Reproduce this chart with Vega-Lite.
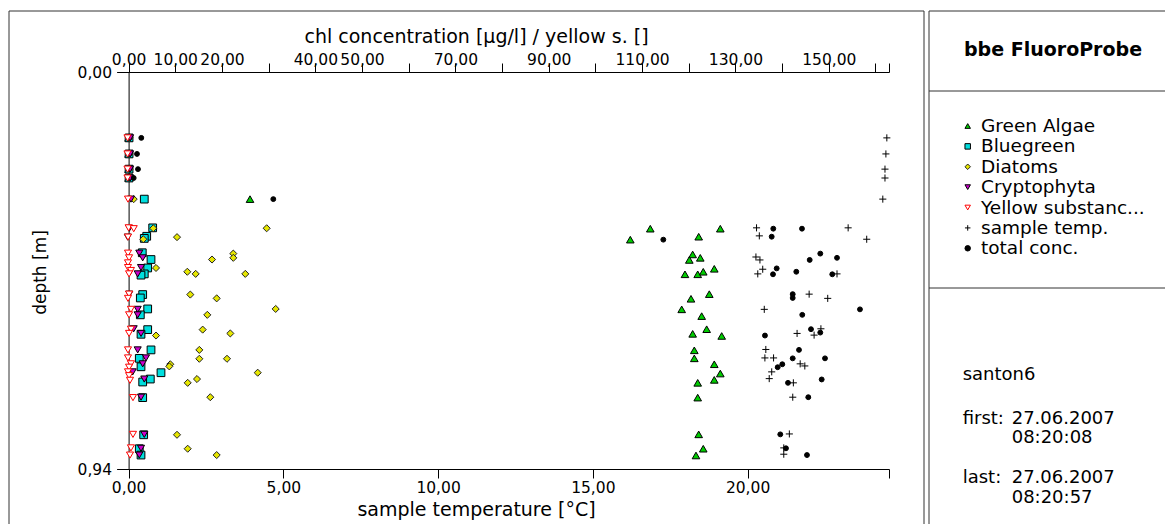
{
  "$schema": "https://vega.github.io/schema/vega-lite/v6.json",
  "padding": {"left": 8, "top": 10, "right": 0, "bottom": 0},
  "background": "white",
  "bounds": "flush",
  "config": {
    "font": "DejaVu Sans",
    "view": {"stroke": null},
    "axis": {"domainColor": "#000000", "tickColor": "#000000", "labelColor": "#000000", "titleColor": "#000000", "titleFontWeight": "normal", "grid": false, "labelFontSize": 15.5, "titleFontSize": 19, "labelOverlap": false, "labelFlush": false, "labelBound": false},
    "rule": {"color": "#333333", "strokeWidth": 1}
  },
  "datasets": {
    "obs": [
      {"series": "Green Algae", "depth": 0.156, "value": 0},
      {"series": "Green Algae", "depth": 0.194, "value": 0},
      {"series": "Green Algae", "depth": 0.230, "value": 0},
      {"series": "Green Algae", "depth": 0.251, "value": 0},
      {"series": "Green Algae", "depth": 0.301, "value": 26.01},
      {"series": "Green Algae", "depth": 0.371, "value": 111.76},
      {"series": "Green Algae", "depth": 0.371, "value": 126.76},
      {"series": "Green Algae", "depth": 0.397, "value": 107.48},
      {"series": "Green Algae", "depth": 0.390, "value": 122.13},
      {"series": "Green Algae", "depth": 0.432, "value": 120.84},
      {"series": "Green Algae", "depth": 0.445, "value": 120.12},
      {"series": "Green Algae", "depth": 0.440, "value": 122.47},
      {"series": "Green Algae", "depth": 0.479, "value": 119.19},
      {"series": "Green Algae", "depth": 0.479, "value": 121.92},
      {"series": "Green Algae", "depth": 0.473, "value": 123.11},
      {"series": "Green Algae", "depth": 0.466, "value": 125.47},
      {"series": "Green Algae", "depth": 0.537, "value": 120.48},
      {"series": "Green Algae", "depth": 0.526, "value": 124.40},
      {"series": "Green Algae", "depth": 0.562, "value": 118.49},
      {"series": "Green Algae", "depth": 0.578, "value": 122.77},
      {"series": "Green Algae", "depth": 0.620, "value": 120.84},
      {"series": "Green Algae", "depth": 0.609, "value": 123.84},
      {"series": "Green Algae", "depth": 0.625, "value": 127.06},
      {"series": "Green Algae", "depth": 0.659, "value": 121.19},
      {"series": "Green Algae", "depth": 0.678, "value": 121.19},
      {"series": "Green Algae", "depth": 0.692, "value": 125.47},
      {"series": "Green Algae", "depth": 0.714, "value": 126.76},
      {"series": "Green Algae", "depth": 0.729, "value": 125.47},
      {"series": "Green Algae", "depth": 0.736, "value": 121.92},
      {"series": "Green Algae", "depth": 0.771, "value": 121.92},
      {"series": "Green Algae", "depth": 0.858, "value": 122.13},
      {"series": "Green Algae", "depth": 0.892, "value": 123.11},
      {"series": "Green Algae", "depth": 0.908, "value": 121.55},
      {"series": "Bluegreen", "depth": 0.156, "value": 0.1},
      {"series": "Bluegreen", "depth": 0.194, "value": 0.1},
      {"series": "Bluegreen", "depth": 0.230, "value": 0.1},
      {"series": "Bluegreen", "depth": 0.251, "value": 0.1},
      {"series": "Bluegreen", "depth": 0.301, "value": 3.36},
      {"series": "Bluegreen", "depth": 0.369, "value": 5.16},
      {"series": "Bluegreen", "depth": 0.389, "value": 3.88},
      {"series": "Bluegreen", "depth": 0.394, "value": 3.36},
      {"series": "Bluegreen", "depth": 0.428, "value": 2.93},
      {"series": "Bluegreen", "depth": 0.444, "value": 4.80},
      {"series": "Bluegreen", "depth": 0.464, "value": 4.09},
      {"series": "Bluegreen", "depth": 0.478, "value": 3.36},
      {"series": "Bluegreen", "depth": 0.481, "value": 2.66},
      {"series": "Bluegreen", "depth": 0.527, "value": 3.02},
      {"series": "Bluegreen", "depth": 0.535, "value": 2.51},
      {"series": "Bluegreen", "depth": 0.561, "value": 4.09},
      {"series": "Bluegreen", "depth": 0.575, "value": 2.51},
      {"series": "Bluegreen", "depth": 0.610, "value": 4.09},
      {"series": "Bluegreen", "depth": 0.621, "value": 2.66},
      {"series": "Bluegreen", "depth": 0.658, "value": 4.80},
      {"series": "Bluegreen", "depth": 0.678, "value": 2.29},
      {"series": "Bluegreen", "depth": 0.698, "value": 2.66},
      {"series": "Bluegreen", "depth": 0.712, "value": 6.94},
      {"series": "Bluegreen", "depth": 0.727, "value": 4.65},
      {"series": "Bluegreen", "depth": 0.734, "value": 3.02},
      {"series": "Bluegreen", "depth": 0.771, "value": 3.02},
      {"series": "Bluegreen", "depth": 0.859, "value": 3.23},
      {"series": "Bluegreen", "depth": 0.892, "value": 2.29},
      {"series": "Bluegreen", "depth": 0.907, "value": 2.66},
      {"series": "Diatoms", "depth": 0.156, "value": 0.2},
      {"series": "Diatoms", "depth": 0.194, "value": 0.2},
      {"series": "Diatoms", "depth": 0.230, "value": 0.2},
      {"series": "Diatoms", "depth": 0.251, "value": 0.2},
      {"series": "Diatoms", "depth": 0.301, "value": 1.09},
      {"series": "Diatoms", "depth": 0.370, "value": 5.29},
      {"series": "Diatoms", "depth": 0.396, "value": 3.15},
      {"series": "Diatoms", "depth": 0.391, "value": 10.37},
      {"series": "Diatoms", "depth": 0.370, "value": 29.58},
      {"series": "Diatoms", "depth": 0.430, "value": 22.43},
      {"series": "Diatoms", "depth": 0.440, "value": 22.43},
      {"series": "Diatoms", "depth": 0.444, "value": 17.87},
      {"series": "Diatoms", "depth": 0.464, "value": 5.87},
      {"series": "Diatoms", "depth": 0.473, "value": 12.58},
      {"series": "Diatoms", "depth": 0.478, "value": 14.37},
      {"series": "Diatoms", "depth": 0.478, "value": 25.00},
      {"series": "Diatoms", "depth": 0.527, "value": 13.22},
      {"series": "Diatoms", "depth": 0.536, "value": 18.87},
      {"series": "Diatoms", "depth": 0.561, "value": 31.51},
      {"series": "Diatoms", "depth": 0.575, "value": 16.86},
      {"series": "Diatoms", "depth": 0.610, "value": 15.87},
      {"series": "Diatoms", "depth": 0.619, "value": 21.79},
      {"series": "Diatoms", "depth": 0.624, "value": 5.87},
      {"series": "Diatoms", "depth": 0.658, "value": 15.15},
      {"series": "Diatoms", "depth": 0.679, "value": 15.15},
      {"series": "Diatoms", "depth": 0.679, "value": 21.08},
      {"series": "Diatoms", "depth": 0.692, "value": 8.93},
      {"series": "Diatoms", "depth": 0.697, "value": 8.72},
      {"series": "Diatoms", "depth": 0.712, "value": 27.66},
      {"series": "Diatoms", "depth": 0.727, "value": 14.65},
      {"series": "Diatoms", "depth": 0.736, "value": 12.66},
      {"series": "Diatoms", "depth": 0.770, "value": 17.50},
      {"series": "Diatoms", "depth": 0.859, "value": 10.37},
      {"series": "Diatoms", "depth": 0.892, "value": 12.66},
      {"series": "Diatoms", "depth": 0.907, "value": 18.87},
      {"series": "Cryptophyta", "depth": 0.156, "value": 0.3},
      {"series": "Cryptophyta", "depth": 0.194, "value": 0.3},
      {"series": "Cryptophyta", "depth": 0.230, "value": 0.3},
      {"series": "Cryptophyta", "depth": 0.251, "value": 0.3},
      {"series": "Cryptophyta", "depth": 0.301, "value": 0.51},
      {"series": "Cryptophyta", "depth": 0.370, "value": 0.15},
      {"series": "Cryptophyta", "depth": 0.391, "value": -0.19},
      {"series": "Cryptophyta", "depth": 0.429, "value": 2.29},
      {"series": "Cryptophyta", "depth": 0.440, "value": 3.02},
      {"series": "Cryptophyta", "depth": 0.463, "value": 2.66},
      {"series": "Cryptophyta", "depth": 0.478, "value": 1.95},
      {"series": "Cryptophyta", "depth": 0.526, "value": 0.15},
      {"series": "Cryptophyta", "depth": 0.562, "value": 1.95},
      {"series": "Cryptophyta", "depth": 0.575, "value": 1.95},
      {"series": "Cryptophyta", "depth": 0.608, "value": 1.09},
      {"series": "Cryptophyta", "depth": 0.619, "value": 2.66},
      {"series": "Cryptophyta", "depth": 0.658, "value": 1.95},
      {"series": "Cryptophyta", "depth": 0.677, "value": 3.73},
      {"series": "Cryptophyta", "depth": 0.691, "value": 3.02},
      {"series": "Cryptophyta", "depth": 0.710, "value": 0.88},
      {"series": "Cryptophyta", "depth": 0.727, "value": 3.36},
      {"series": "Cryptophyta", "depth": 0.770, "value": 2.66},
      {"series": "Cryptophyta", "depth": 0.858, "value": 3.36},
      {"series": "Cryptophyta", "depth": 0.891, "value": 2.66},
      {"series": "Cryptophyta", "depth": 0.907, "value": 2.29},
      {"series": "Yellow substanc...", "depth": 0.156, "value": -0.24},
      {"series": "Yellow substanc...", "depth": 0.194, "value": -0.24},
      {"series": "Yellow substanc...", "depth": 0.230, "value": -0.24},
      {"series": "Yellow substanc...", "depth": 0.251, "value": -0.24},
      {"series": "Yellow substanc...", "depth": 0.301, "value": -0.13},
      {"series": "Yellow substanc...", "depth": 0.369, "value": 0.0},
      {"series": "Yellow substanc...", "depth": 0.371, "value": 1.1},
      {"series": "Yellow substanc...", "depth": 0.391, "value": -0.13},
      {"series": "Yellow substanc...", "depth": 0.429, "value": -0.13},
      {"series": "Yellow substanc...", "depth": 0.440, "value": 0.1},
      {"series": "Yellow substanc...", "depth": 0.452, "value": -0.13},
      {"series": "Yellow substanc...", "depth": 0.463, "value": -0.13},
      {"series": "Yellow substanc...", "depth": 0.470, "value": 0.5},
      {"series": "Yellow substanc...", "depth": 0.478, "value": 0.1},
      {"series": "Yellow substanc...", "depth": 0.526, "value": 0.1},
      {"series": "Yellow substanc...", "depth": 0.536, "value": -0.13},
      {"series": "Yellow substanc...", "depth": 0.562, "value": 0.5},
      {"series": "Yellow substanc...", "depth": 0.575, "value": 0.1},
      {"series": "Yellow substanc...", "depth": 0.609, "value": 0.5},
      {"series": "Yellow substanc...", "depth": 0.619, "value": 0.1},
      {"series": "Yellow substanc...", "depth": 0.658, "value": -0.13},
      {"series": "Yellow substanc...", "depth": 0.677, "value": -0.13},
      {"series": "Yellow substanc...", "depth": 0.691, "value": 0.5},
      {"series": "Yellow substanc...", "depth": 0.699, "value": 0.1},
      {"series": "Yellow substanc...", "depth": 0.710, "value": -0.13},
      {"series": "Yellow substanc...", "depth": 0.719, "value": 0.1},
      {"series": "Yellow substanc...", "depth": 0.730, "value": 0.3},
      {"series": "Yellow substanc...", "depth": 0.771, "value": 0.94},
      {"series": "Yellow substanc...", "depth": 0.858, "value": 0.94},
      {"series": "Yellow substanc...", "depth": 0.890, "value": 0.5},
      {"series": "Yellow substanc...", "depth": 0.907, "value": 0.3},
      {"series": "total conc.", "depth": 0.156, "value": 2.72},
      {"series": "total conc.", "depth": 0.194, "value": 1.80},
      {"series": "total conc.", "depth": 0.230, "value": 2.01},
      {"series": "total conc.", "depth": 0.251, "value": 1.09},
      {"series": "total conc.", "depth": 0.301, "value": 31.00},
      {"series": "total conc.", "depth": 0.397, "value": 114.55},
      {"series": "total conc.", "depth": 0.371, "value": 138.11},
      {"series": "total conc.", "depth": 0.371, "value": 144.26},
      {"series": "total conc.", "depth": 0.390, "value": 137.77},
      {"series": "total conc.", "depth": 0.430, "value": 148.18},
      {"series": "total conc.", "depth": 0.445, "value": 145.91},
      {"series": "total conc.", "depth": 0.440, "value": 151.76},
      {"series": "total conc.", "depth": 0.465, "value": 138.84},
      {"series": "total conc.", "depth": 0.479, "value": 138.05},
      {"series": "total conc.", "depth": 0.473, "value": 143.04},
      {"series": "total conc.", "depth": 0.479, "value": 150.75},
      {"series": "total conc.", "depth": 0.526, "value": 142.27},
      {"series": "total conc.", "depth": 0.535, "value": 142.27},
      {"series": "total conc.", "depth": 0.562, "value": 156.68},
      {"series": "total conc.", "depth": 0.575, "value": 144.32},
      {"series": "total conc.", "depth": 0.609, "value": 146.19},
      {"series": "total conc.", "depth": 0.617, "value": 148.18},
      {"series": "total conc.", "depth": 0.624, "value": 136.33},
      {"series": "total conc.", "depth": 0.658, "value": 143.62},
      {"series": "total conc.", "depth": 0.678, "value": 142.27},
      {"series": "total conc.", "depth": 0.678, "value": 149.19},
      {"series": "total conc.", "depth": 0.692, "value": 140.04},
      {"series": "total conc.", "depth": 0.699, "value": 139.05},
      {"series": "total conc.", "depth": 0.728, "value": 148.48},
      {"series": "total conc.", "depth": 0.736, "value": 141.26},
      {"series": "total conc.", "depth": 0.770, "value": 145.61},
      {"series": "total conc.", "depth": 0.858, "value": 139.61},
      {"series": "total conc.", "depth": 0.891, "value": 140.83},
      {"series": "total conc.", "depth": 0.907, "value": 145.33},
      {"series": "sample temp.", "depth": 0.156, "value": 24.50},
      {"series": "sample temp.", "depth": 0.194, "value": 24.47},
      {"series": "sample temp.", "depth": 0.230, "value": 24.44},
      {"series": "sample temp.", "depth": 0.251, "value": 24.44},
      {"series": "sample temp.", "depth": 0.301, "value": 24.37},
      {"series": "sample temp.", "depth": 0.369, "value": 20.29},
      {"series": "sample temp.", "depth": 0.369, "value": 23.25},
      {"series": "sample temp.", "depth": 0.388, "value": 20.38},
      {"series": "sample temp.", "depth": 0.396, "value": 23.85},
      {"series": "sample temp.", "depth": 0.438, "value": 20.27},
      {"series": "sample temp.", "depth": 0.445, "value": 20.40},
      {"series": "sample temp.", "depth": 0.478, "value": 20.33},
      {"series": "sample temp.", "depth": 0.467, "value": 20.49},
      {"series": "sample temp.", "depth": 0.478, "value": 22.89},
      {"series": "sample temp.", "depth": 0.526, "value": 21.99},
      {"series": "sample temp.", "depth": 0.536, "value": 22.59},
      {"series": "sample temp.", "depth": 0.562, "value": 20.54},
      {"series": "sample temp.", "depth": 0.619, "value": 21.60},
      {"series": "sample temp.", "depth": 0.623, "value": 22.15},
      {"series": "sample temp.", "depth": 0.608, "value": 22.37},
      {"series": "sample temp.", "depth": 0.657, "value": 20.59},
      {"series": "sample temp.", "depth": 0.677, "value": 20.56},
      {"series": "sample temp.", "depth": 0.677, "value": 20.84},
      {"series": "sample temp.", "depth": 0.691, "value": 21.70},
      {"series": "sample temp.", "depth": 0.696, "value": 21.85},
      {"series": "sample temp.", "depth": 0.710, "value": 20.78},
      {"series": "sample temp.", "depth": 0.726, "value": 20.70},
      {"series": "sample temp.", "depth": 0.736, "value": 21.48},
      {"series": "sample temp.", "depth": 0.770, "value": 21.46},
      {"series": "sample temp.", "depth": 0.857, "value": 21.35},
      {"series": "sample temp.", "depth": 0.890, "value": 21.17},
      {"series": "sample temp.", "depth": 0.905, "value": 21.17}
    ],
    "legendEntries": [
      {"series": "Green Algae"},
      {"series": "Bluegreen"},
      {"series": "Diatoms"},
      {"series": "Cryptophyta"},
      {"series": "Yellow substanc..."},
      {"series": "sample temp."},
      {"series": "total conc."}
    ],
    "one": [{}]
  },
  "spacing": 5,
  "hconcat": [
    {
      "width": 915,
      "height": 513,
      "layer": [
        {
          "data": {"name": "one"},
          "mark": "rule",
          "encoding": {
            "x": {"datum": 0, "type": "quantitative", "scale": {"domain": [0, 1], "nice": false, "zero": false}, "axis": null},
            "x2": {"datum": 1},
            "y": {"datum": 1, "type": "quantitative", "scale": {"domain": [0, 1], "nice": false, "zero": false}, "axis": null}
          }
        },
        {
          "data": {"name": "one"},
          "mark": "rule",
          "encoding": {
            "x": {"datum": 0, "type": "quantitative", "scale": {"domain": [0, 1], "nice": false, "zero": false}, "axis": null},
            "y": {"datum": 0, "type": "quantitative", "scale": {"domain": [0, 1], "nice": false, "zero": false}, "axis": null},
            "y2": {"datum": 1}
          }
        },
        {
          "data": {"name": "one"},
          "mark": "rule",
          "encoding": {
            "x": {"datum": 1, "type": "quantitative", "scale": {"domain": [0, 1], "nice": false, "zero": false}, "axis": null},
            "y": {"datum": 0, "type": "quantitative", "scale": {"domain": [0, 1], "nice": false, "zero": false}, "axis": null},
            "y2": {"datum": 1}
          }
        },
        {
          "data": {"name": "obs"},
          "transform": [{"filter": "datum.series !== 'sample temp.'"}],
          "mark": {"type": "point", "filled": true, "opacity": 1, "strokeWidth": 1},
          "encoding": {
            "y": {
              "field": "depth", "type": "quantitative",
              "scale": {"domain": [0, 0.94], "range": [61, 458], "nice": false, "zero": false},
              "axis": {
                "orient": "left", "offset": -119.6, "values": [0, 0.94],
                "labelExpr": "replace(format(datum.value, '.2f'), '.', ',')",
                "tickSize": 12, "labelPadding": 5,
                "title": "depth [m]", "titleFontSize": 17, "titleX": -88, "titleY": 261, "titleAngle": -90,
                "titleBaseline": "middle", "titleAlign": "center"
              }
            },
            "x": {
              "field": "value", "type": "quantitative",
              "scale": {"domain": [0, 162.9], "range": [119.6, 880], "nice": false, "zero": false},
              "axis": {
                "orient": "top", "offset": -61,
                "values": [0, 10, 20, 30, 40, 50, 60, 70, 80, 90, 100, 110, 120, 130, 140, 150, 160, 162.9],
                "labelExpr": "indexof([0, 10, 20, 40, 50, 70, 90, 110, 130, 150], datum.value) >= 0 ? replace(format(datum.value, '.2f'), '.', ',') : ''",
                "tickSize": 9, "labelBaseline": "alphabetic", "labelPadding": -1,
                "title": "chl concentration [µg/l] / yellow s. []",
                "titleX": 467, "titleY": -30, "titleBaseline": "alphabetic", "titleAlign": "center"
              }
            },
            "fill": {
              "field": "series", "type": "nominal",
              "scale": {"domain": ["Green Algae", "Bluegreen", "Diatoms", "Cryptophyta", "Yellow substanc...", "sample temp.", "total conc."],
                        "range": ["#00cc00", "#00dede", "#e6e600", "#cc00cc", "#ffffff", "#000000", "#000000"]},
              "legend": null
            },
            "stroke": {
              "field": "series", "type": "nominal",
              "scale": {"domain": ["Green Algae", "Bluegreen", "Diatoms", "Cryptophyta", "Yellow substanc...", "sample temp.", "total conc."],
                        "range": ["#000000", "#000000", "#222222", "#000000", "#ff0000", "#000000", "#000000"]},
              "legend": null
            },
            "shape": {
              "field": "series", "type": "nominal",
              "scale": {"domain": ["Green Algae", "Bluegreen", "Diatoms", "Cryptophyta", "Yellow substanc...", "sample temp.", "total conc."],
                        "range": ["triangle-up", "square", "diamond", "triangle-down", "triangle-down", "M-1,0H1M0,-1V1", "circle"]},
              "legend": null
            },
            "size": {
              "field": "series", "type": "nominal",
              "scale": {"type": "ordinal", "domain": ["Green Algae", "Bluegreen", "Diatoms", "Cryptophyta", "Yellow substanc...", "sample temp.", "total conc."],
                        "range": [58, 60, 50, 50, 50, 50, 24]},
              "legend": null
            }
          }
        },
        {
          "data": {"name": "obs"},
          "transform": [{"filter": "datum.series === 'sample temp.'"}],
          "mark": {"type": "point", "filled": true, "opacity": 1, "strokeWidth": 1},
          "encoding": {
            "y": {
              "field": "depth", "type": "quantitative",
              "scale": {"domain": [0, 0.94], "range": [61, 458], "nice": false, "zero": false},
              "axis": null
            },
            "x": {
              "field": "value", "type": "quantitative",
              "scale": {"domain": [0, 24.57], "range": [119.6, 880], "nice": false, "zero": false},
              "axis": {
                "orient": "bottom", "offset": -55,
                "values": [0, 5, 10, 15, 20, 24.57],
                "labelExpr": "datum.value <= 20 ? replace(format(datum.value, '.2f'), '.', ',') : ''",
                "tickSize": 9, "labelBaseline": "alphabetic", "labelPadding": 14,
                "title": "sample temperature [°C]",
                "titleX": 467, "titleY": 46, "titleBaseline": "alphabetic", "titleAlign": "center"
              }
            },
            "fill": {
              "field": "series", "type": "nominal",
              "scale": {"domain": ["Green Algae", "Bluegreen", "Diatoms", "Cryptophyta", "Yellow substanc...", "sample temp.", "total conc."],
                        "range": ["#00cc00", "#00dede", "#e6e600", "#cc00cc", "#ffffff", "#000000", "#000000"]},
              "legend": null
            },
            "stroke": {
              "field": "series", "type": "nominal",
              "scale": {"domain": ["Green Algae", "Bluegreen", "Diatoms", "Cryptophyta", "Yellow substanc...", "sample temp.", "total conc."],
                        "range": ["#000000", "#000000", "#222222", "#000000", "#ff0000", "#000000", "#000000"]},
              "legend": null
            },
            "shape": {
              "field": "series", "type": "nominal",
              "scale": {"domain": ["Green Algae", "Bluegreen", "Diatoms", "Cryptophyta", "Yellow substanc...", "sample temp.", "total conc."],
                        "range": ["triangle-up", "square", "diamond", "triangle-down", "triangle-down", "M-1,0H1M0,-1V1", "circle"]},
              "legend": null
            },
            "size": {
              "field": "series", "type": "nominal",
              "scale": {"type": "ordinal", "domain": ["Green Algae", "Bluegreen", "Diatoms", "Cryptophyta", "Yellow substanc...", "sample temp.", "total conc."],
                        "range": [58, 60, 50, 50, 50, 50, 24]},
              "legend": null
            }
          }
        }
      ],
      "resolve": {"scale": {"x": "independent", "y": "independent"}, "axis": {"x": "independent", "y": "independent"}}
    },
    {
      "spacing": 0,
      "bounds": "flush",
      "vconcat": [
        {
          "width": 236, "height": 80,
          "layer": [
            {
              "data": {"name": "one"},
              "mark": "rule",
              "encoding": {
                "x": {"datum": 0, "type": "quantitative", "scale": {"domain": [0, 1], "nice": false, "zero": false}, "axis": null},
                "x2": {"datum": 1},
                "y": {"datum": 1, "type": "quantitative", "scale": {"domain": [0, 1], "nice": false, "zero": false}, "axis": null}
              }
            },
            {
              "data": {"name": "one"},
              "mark": "rule",
              "encoding": {
                "x": {"datum": 0, "type": "quantitative"},
                "y": {"datum": 0, "type": "quantitative"},
                "y2": {"datum": 1}
              }
            },
            {
              "data": {"values": [{"t": "bbe FluoroProbe"}]},
              "mark": {"type": "text", "fontSize": 19, "fontWeight": "bold", "align": "center", "baseline": "alphabetic", "dx": 6, "dy": 5, "color": "#000000"},
              "encoding": {"text": {"field": "t", "type": "nominal"}}
            }
          ]
        },
        {
          "width": 236, "height": 197,
          "layer": [
            {
              "data": {"name": "one"},
              "mark": "rule",
              "encoding": {
                "x": {"datum": 0, "type": "quantitative", "scale": {"domain": [0, 1], "nice": false, "zero": false}, "axis": null},
                "x2": {"datum": 1},
                "y": {"datum": 1, "type": "quantitative", "scale": {"domain": [0, 1], "nice": false, "zero": false}, "axis": null}
              }
            },
            {
              "data": {"name": "one"},
              "mark": "rule",
              "encoding": {
                "x": {"datum": 0, "type": "quantitative"},
                "y": {"datum": 0, "type": "quantitative", "scale": {"domain": [0, 1], "nice": false, "zero": false}, "axis": null},
                "y2": {"datum": 1}
              }
            },
            {
              "data": {"name": "legendEntries"},
              "mark": {"type": "point", "filled": true, "opacity": 1, "strokeWidth": 1, "size": 30},
              "encoding": {
                "x": {"datum": 0.164, "type": "quantitative"},
                "y": {"field": "series", "type": "nominal", "scale": {"type": "point", "domain": ["Green Algae", "Bluegreen", "Diatoms", "Cryptophyta", "Yellow substanc...", "sample temp.", "total conc."], "range": [35, 157.3], "padding": 0}, "axis": null},
                "fill": {"field": "series", "type": "nominal", "legend": null},
                "stroke": {"field": "series", "type": "nominal", "legend": null},
                "shape": {"field": "series", "type": "nominal", "legend": null}
              }
            },
            {
              "data": {"name": "legendEntries"},
              "mark": {"type": "text", "align": "left", "baseline": "middle", "fontSize": 18.5, "color": "#000000"},
              "encoding": {
                "x": {"datum": 0.2203, "type": "quantitative"},
                "y": {"field": "series", "type": "nominal", "scale": {"type": "point", "domain": ["Green Algae", "Bluegreen", "Diatoms", "Cryptophyta", "Yellow substanc...", "sample temp.", "total conc."], "range": [35, 157.3], "padding": 0}, "axis": null},
                "text": {"field": "series", "type": "nominal"}
              }
            }
          ],
          "resolve": {"scale": {"y": "independent"}}
        },
        {
          "width": 236, "height": 236,
          "layer": [
            {
              "data": {"name": "one"},
              "mark": "rule",
              "encoding": {
                "x": {"datum": 0, "type": "quantitative", "scale": {"domain": [0, 1], "nice": false, "zero": false}, "axis": null},
                "x2": {"datum": 1},
                "y": {"datum": 1, "type": "quantitative", "scale": {"domain": [0, 1], "nice": false, "zero": false}, "axis": null}
              }
            },
            {
              "data": {"name": "one"},
              "mark": "rule",
              "encoding": {
                "x": {"datum": 0, "type": "quantitative"},
                "y": {"datum": 0, "type": "quantitative"},
                "y2": {"datum": 1}
              }
            },
            {
              "data": {"name": "one"},
              "mark": {"type": "text", "align": "left", "baseline": "alphabetic", "fontSize": 18, "dx": -84.3, "dy": -26, "color": "#000000"},
              "encoding": {"text": {"value": "santon6"}}
            },
            {
              "data": {"name": "one"},
              "mark": {"type": "text", "align": "left", "baseline": "alphabetic", "fontSize": 18, "dx": -84.3, "dy": 18, "color": "#000000"},
              "encoding": {"text": {"value": "first:"}}
            },
            {
              "data": {"name": "one"},
              "mark": {"type": "text", "align": "left", "baseline": "alphabetic", "fontSize": 18, "dx": -35.3, "dy": 18, "color": "#000000"},
              "encoding": {"text": {"value": "27.06.2007"}}
            },
            {
              "data": {"name": "one"},
              "mark": {"type": "text", "align": "left", "baseline": "alphabetic", "fontSize": 18, "dx": -35.3, "dy": 37, "color": "#000000"},
              "encoding": {"text": {"value": "08:20:08"}}
            },
            {
              "data": {"name": "one"},
              "mark": {"type": "text", "align": "left", "baseline": "alphabetic", "fontSize": 18, "dx": -84.3, "dy": 77, "color": "#000000"},
              "encoding": {"text": {"value": "last:"}}
            },
            {
              "data": {"name": "one"},
              "mark": {"type": "text", "align": "left", "baseline": "alphabetic", "fontSize": 18, "dx": -35.3, "dy": 77, "color": "#000000"},
              "encoding": {"text": {"value": "27.06.2007"}}
            },
            {
              "data": {"name": "one"},
              "mark": {"type": "text", "align": "left", "baseline": "alphabetic", "fontSize": 18, "dx": -35.3, "dy": 97, "color": "#000000"},
              "encoding": {"text": {"value": "08:20:57"}}
            }
          ]
        }
      ]
    }
  ]
}
